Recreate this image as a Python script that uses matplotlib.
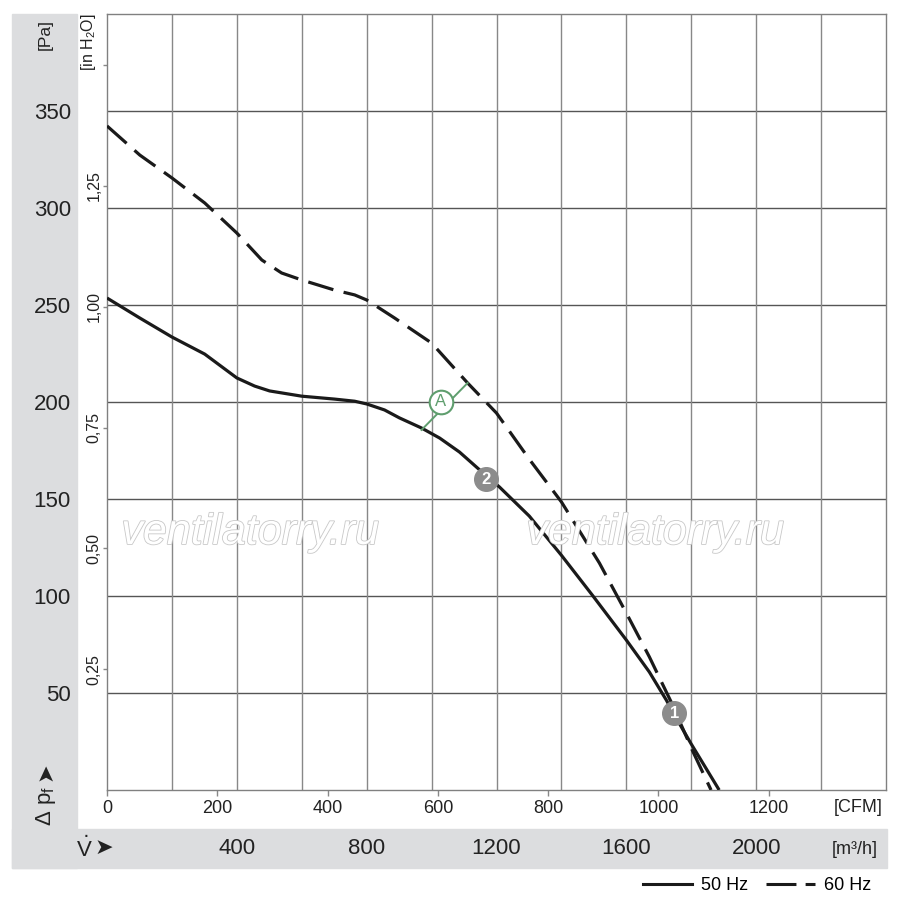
import matplotlib
matplotlib.use("Agg")
import matplotlib.pyplot as plt
import matplotlib.transforms as mtransforms
import matplotlib.patheffects as pe
from matplotlib import font_manager
from matplotlib.lines import Line2D
from matplotlib.patches import Rectangle

# --- data ---
# 50 Hz curve: flow [m3/h], static pressure [Pa]
flow_50 = [0, 101, 200, 301, 400, 455, 501, 600, 701, 763, 800, 855, 901, 969,
           1025, 1086, 1169, 1209, 1301, 1400, 1495, 1600, 1671, 1723, 1748, 1800, 1886]
dp_50 = [253.6, 243.3, 233.5, 224.7, 212.4, 208.2, 205.7, 203.0, 201.5, 200.4, 199.0,
         195.9, 191.8, 186.6, 181.4, 174.2, 161.9, 156.2, 141.2, 121.0, 100.5, 77.3,
         60.8, 46.4, 38.7, 23.7, 0]

# 60 Hz curve
flow_60 = [0, 101, 200, 301, 400, 477, 538, 600, 701, 763, 800, 886, 1000, 1111,
           1200, 1301, 1400, 1517, 1600, 1671, 1738, 1803, 1861]
dp_60 = [342.3, 327.3, 315.5, 302.6, 287.1, 273.2, 266.5, 262.9, 257.7, 255.2, 252.6,
         243.3, 230.4, 209.8, 194.3, 170.5, 148.5, 117.0, 91.2, 68.6, 45.4, 20.6, 0]

pa_ticks = [50, 100, 150, 200, 250, 300, 350]
inh2o_ticks = [0.25, 0.50, 0.75, 1.00, 1.25, 1.50]
inh2o_labels = ["0,25", "0,50", "0,75", "1,00", "1,25", ""]
cfm_ticks = [0, 200, 400, 600, 800, 1000, 1200]
m3h_labels = [400, 800, 1200, 1600, 2000]

# operating points
pt1 = (1748, 39.5)
pt2 = (1169, 160.3)
ptA = (1028, 200.0)
lineA_x = [969, 1111]
lineA_y = [185.6, 209.8]

PA_PER_INH2O = 249.089
M3H_PER_CFM = 1.699

names = {f.name for f in font_manager.fontManager.ttflist}
main_font = "Liberation Sans Narrow" if "Liberation Sans Narrow" in names else "Liberation Sans"
plt.rcParams["font.family"] = [main_font, "DejaVu Sans"]

W, H = 900, 907
fig = plt.figure(figsize=(W / 100, H / 100), dpi=100)
band = "#dcdddf"
txt = "#222222"


def fx(px):
    return px / W


def fy(py):
    return 1 - py / H


# grey bands (behind the axes)
fig.patches.append(Rectangle((fx(12), fy(868)), fx(77) - fx(12), fy(14) - fy(868),
                             transform=fig.transFigure, color=band, zorder=-5))
fig.patches.append(Rectangle((fx(12), fy(868)), fx(887) - fx(12), fy(829) - fy(868),
                             transform=fig.transFigure, color=band, zorder=-5))

ax = fig.add_axes([fx(107), fy(790), fx(886) - fx(107), fy(14) - fy(790)])
ax.set_xlim(0, 2400)
ax.set_ylim(0, 400)
for s in ax.spines.values():
    s.set_color("#808080")
    s.set_linewidth(1.0)

for p in pa_ticks:
    ax.axhline(p, color="#555555", lw=1.0, zorder=1)
for q in range(200, 2400, 200):
    ax.axvline(q, color="#888888", lw=1.0, zorder=1)

# Pa labels in grey band
ax.set_yticks(pa_ticks)
ax.set_yticklabels([str(p) for p in pa_ticks])
ax.tick_params(axis="y", length=0, pad=26, labelsize=16, labelcolor=txt)

# CFM ticks below the plot
ax.set_xticks([c * M3H_PER_CFM for c in cfm_ticks])
ax.set_xticklabels([str(c) for c in cfm_ticks])
ax.tick_params(axis="x", length=4.5, width=1, color="#888888", pad=3,
               labelsize=13, labelcolor=txt)

# in H2O secondary axis
sec = ax.secondary_yaxis("left", functions=(lambda p: p / PA_PER_INH2O,
                                            lambda w: w * PA_PER_INH2O))
sec.set_yticks(inh2o_ticks)
sec.set_yticklabels(inh2o_labels)
sec.spines["left"].set_visible(False)
sec.tick_params(axis="y", length=3, width=1, color="#888888", pad=1,
                labelsize=11.5, labelcolor=txt)
for lab in sec.get_yticklabels():
    lab.set_rotation(90)
    lab.set_va("center")

# curves
ax.plot(flow_50, dp_50, color="#1a1a1a", lw=2.3, solid_capstyle="butt", zorder=3)
ax.plot(flow_60, dp_60, color="#1a1a1a", lw=2.3, dashes=(8.2, 3.3),
        dash_capstyle="butt", zorder=3)

# marker A
green = "#5f9e6e"
ax.plot(lineA_x, lineA_y, color=green, lw=1.4, zorder=4)
ax.plot(*ptA, marker="o", ms=17, mfc="white", mec=green, mew=1.5, zorder=5)
ax.text(*ptA, "A", color=green, fontsize=12, ha="center", va="center", zorder=6)

# markers 1 and 2
for pt, lab in [(pt1, "1"), (pt2, "2")]:
    ax.plot(*pt, marker="o", ms=17, mfc="#8c8c8c", mec="#8c8c8c", zorder=5)
    ax.text(*pt, lab, color="white", fontsize=12, fontweight="bold",
            ha="center", va="center", zorder=6)

# axis unit labels
fig.text(fx(45), fy(35), "[Pa]", rotation=90, ha="center", va="center",
         fontsize=12.5, color=txt)
fig.text(fx(89), fy(42), "[in H$_\\mathregular{2}$O]", rotation=90, ha="center",
         va="center", fontsize=11.5, color=txt)
fig.text(fx(858), fy(808), "[CFM]", ha="center", va="center", fontsize=13, color=txt)
fig.text(fx(46), fy(806), "Δ p$_\\mathregular{f}$", rotation=90, ha="center",
         va="center", fontsize=16, color=txt)
fig.text(fx(45), fy(772), "➤", rotation=90, ha="center", va="center",
         fontsize=16, color=txt, family="DejaVu Sans")

# m3/h scale in the bottom band
blend = mtransforms.blended_transform_factory(ax.transData, fig.transFigure)
for m in m3h_labels:
    ax.text(m, fy(848), str(m), transform=blend, ha="center", va="center",
            fontsize=16, color=txt, clip_on=False)
fig.text(fx(855), fy(849), "[m³/h]", ha="center", va="center", fontsize=13, color=txt)
fig.text(fx(84), fy(849), "$\\dot{\\mathregular{V}}$", ha="center", va="center",
         fontsize=16, color=txt)
fig.text(fx(104), fy(848), "➤", ha="center", va="center", fontsize=16, color=txt,
         family="DejaVu Sans")

# watermark
for x in (250, 655):
    fig.text(fx(x), fy(533), "ventilatorry.ru", ha="center", va="center",
             fontsize=31, style="italic", family="Liberation Sans", color="white",
             zorder=2, path_effects=[pe.withStroke(linewidth=1.2, foreground="#c8c8c8")])

# legend
handles = [Line2D([], [], color="#1a1a1a", lw=2.2),
           Line2D([], [], color="#1a1a1a", lw=2.2, dashes=(9.8, 3.0))]
fig.legend(handles, ["50 Hz", "60 Hz"], loc="center right",
           bbox_to_anchor=(fx(880), fy(886)), ncol=2, frameon=False, fontsize=13,
           handlelength=2.7, handletextpad=0.5, columnspacing=1.0, borderpad=0)

fig.savefig("out.png", dpi=100)
